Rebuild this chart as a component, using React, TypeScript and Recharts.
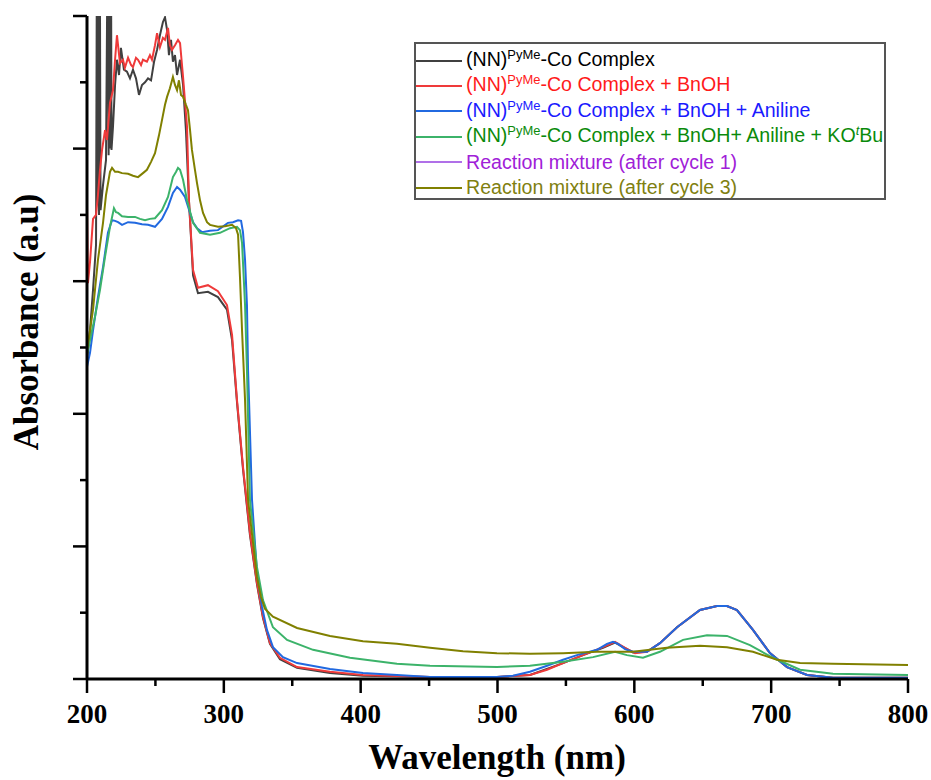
import React from "react";
import { LineChart, Line, XAxis, YAxis, Legend, Label } from "recharts";

// wavelength ticks (nm) and absorbance ticks (a.u., unlabelled)
const xTicks = [200, 250, 300, 350, 400, 450, 500, 550, 600, 650, 700, 750, 800];
const yTicks = [0, 0.1, 0.2, 0.3, 0.4, 0.5, 0.6, 0.7, 0.8, 0.9, 1.0];

// [wavelength nm, absorbance]
const complexOnly: [number, number][] = [
  [200.0, 0.481], [202.2, 0.526], [204.4, 0.587], [206.6, 0.655], [207.3, 1.15], [207.8, 0.72],
  [208.3, 1.15], [208.8, 0.7], [209.3, 1.15], [209.9, 0.707], [211.7, 0.745], [213.9, 0.783],
  [215.2, 1.15], [215.8, 0.79], [216.4, 1.15], [217.0, 0.8], [217.5, 1.15], [217.9, 0.798],
  [219.0, 0.833], [220.5, 0.896], [221.9, 0.934], [223.4, 0.911], [224.8, 0.952], [227.0, 0.919],
  [229.2, 0.916], [231.4, 0.906], [233.6, 0.919], [235.8, 0.906], [238.0, 0.881], [240.2, 0.896],
  [242.4, 0.9], [244.6, 0.906], [246.8, 0.903], [249.0, 0.931], [251.2, 0.949], [253.3, 0.971],
  [255.5, 0.991], [257.0, 0.998], [258.5, 0.979], [259.9, 0.941], [261.4, 0.964], [262.8, 0.931],
  [264.3, 0.941], [265.8, 0.911], [268.0, 0.934], [270.2, 0.896], [272.3, 0.828], [274.5, 0.722],
  [277.5, 0.609], [281.1, 0.582], [288.4, 0.584], [295.7, 0.576], [302.3, 0.557], [306.0, 0.511],
  [309.6, 0.418], [314.0, 0.317], [319.1, 0.217], [324.2, 0.143], [328.6, 0.092], [333.7, 0.053],
  [341.0, 0.03], [353.5, 0.017], [377.6, 0.009], [401.7, 0.005], [450.7, 0.003], [499.6, 0.003],
  [523.7, 0.006], [547.9, 0.024], [562.5, 0.036], [577.1, 0.047], [585.9, 0.055], [599.0, 0.04],
  [609.2, 0.041], [618.7, 0.054], [631.2, 0.078], [648.0, 0.104], [660.4, 0.11], [667.7, 0.11],
  [675.0, 0.104], [686.7, 0.074], [699.1, 0.039], [711.6, 0.018], [726.2, 0.006], [745.2, 0.002],
  [800.0, 0.002],
];

const withBnOH: [number, number][] = [
  [200.0, 0.715], [200.7, 0.597], [202.2, 0.629], [204.4, 0.694], [206.6, 0.7], [208.0, 0.73],
  [209.5, 0.768], [211.0, 0.798], [213.2, 0.828], [214.6, 0.813], [216.8, 0.869], [219.0, 0.888],
  [220.5, 0.934], [221.9, 0.971], [224.1, 0.929], [226.3, 0.934], [227.7, 0.922], [230.0, 0.937],
  [232.2, 0.926], [233.6, 0.923], [235.8, 0.937], [237.3, 0.934], [239.5, 0.926], [240.9, 0.934],
  [243.8, 0.931], [246.0, 0.941], [247.5, 0.934], [249.7, 0.956], [251.2, 0.974], [253.3, 0.953],
  [255.5, 0.967], [257.0, 0.964], [259.2, 0.982], [260.6, 0.956], [262.1, 0.949], [264.3, 0.956],
  [266.5, 0.964], [268.0, 0.959], [270.2, 0.908], [273.1, 0.833], [274.5, 0.722], [277.5, 0.617],
  [281.1, 0.59], [288.4, 0.594], [295.7, 0.585], [302.3, 0.564], [306.0, 0.519], [309.6, 0.421],
  [314.0, 0.32], [319.1, 0.22], [324.2, 0.145], [328.6, 0.094], [333.7, 0.054], [341.0, 0.032],
  [353.5, 0.018], [377.6, 0.011], [401.7, 0.006], [450.7, 0.003], [499.6, 0.003], [523.7, 0.006],
  [536.2, 0.014], [547.9, 0.024], [562.5, 0.036], [577.1, 0.048], [585.9, 0.056], [593.2, 0.047],
  [600.5, 0.039], [609.2, 0.041], [618.7, 0.054], [631.2, 0.078], [648.0, 0.104], [660.4, 0.11],
  [667.7, 0.11], [675.0, 0.104], [686.7, 0.074], [699.1, 0.039], [711.6, 0.018], [726.2, 0.006],
  [745.2, 0.002], [800.0, 0.002],
];

const withAniline: [number, number][] = [
  [200.0, 0.471], [202.2, 0.492], [204.4, 0.526], [208.0, 0.576], [211.7, 0.621], [215.3, 0.673],
  [218.3, 0.692], [220.5, 0.691], [222.7, 0.689], [225.6, 0.685], [230.0, 0.689], [235.1, 0.688],
  [240.2, 0.686], [244.6, 0.685], [249.7, 0.682], [254.8, 0.694], [259.2, 0.712], [262.8, 0.733],
  [265.8, 0.742], [268.0, 0.738], [271.6, 0.727], [275.3, 0.703], [277.5, 0.689], [280.4, 0.68],
  [284.0, 0.674], [289.9, 0.676], [295.7, 0.677], [303.0, 0.688], [306.7, 0.689], [310.4, 0.692],
  [312.6, 0.691], [314.0, 0.674], [315.5, 0.632], [316.9, 0.564], [317.7, 0.466], [318.4, 0.421],
  [320.6, 0.27], [324.2, 0.16], [327.9, 0.109], [331.5, 0.074], [335.9, 0.048], [343.2, 0.033],
  [353.5, 0.024], [377.6, 0.015], [401.7, 0.009], [426.5, 0.006], [450.7, 0.003], [499.6, 0.003],
  [511.3, 0.005], [523.7, 0.011], [536.2, 0.02], [547.9, 0.029], [558.1, 0.036], [572.7, 0.044],
  [580.0, 0.053], [584.4, 0.056], [588.1, 0.053], [593.2, 0.045], [599.0, 0.041], [609.2, 0.041],
  [618.7, 0.054], [631.2, 0.078], [648.0, 0.104], [660.4, 0.11], [667.7, 0.11], [675.0, 0.104],
  [686.7, 0.074], [699.1, 0.039], [711.6, 0.018], [726.2, 0.006], [745.2, 0.002], [800.0, 0.002],
];

const withKOtBu: [number, number][] = [
  [200.0, 0.49], [200.7, 0.496], [202.2, 0.511], [203.7, 0.526], [205.8, 0.546], [209.5, 0.587],
  [213.2, 0.637], [216.8, 0.682], [219.7, 0.71], [221.2, 0.704], [222.7, 0.703], [225.6, 0.698],
  [230.0, 0.697], [235.1, 0.697], [238.7, 0.694], [242.4, 0.692], [246.0, 0.694], [249.7, 0.695],
  [254.8, 0.707], [259.2, 0.727], [262.8, 0.757], [265.1, 0.765], [266.5, 0.771], [268.0, 0.768],
  [270.2, 0.753], [273.1, 0.722], [277.5, 0.688], [282.6, 0.673], [289.9, 0.67], [297.2, 0.673],
  [304.5, 0.68], [309.6, 0.682], [311.8, 0.677], [313.3, 0.658], [315.5, 0.564], [316.9, 0.466],
  [319.1, 0.27], [324.2, 0.169], [328.6, 0.119], [335.9, 0.078], [346.2, 0.059], [365.2, 0.044],
  [392.2, 0.032], [426.5, 0.023], [450.7, 0.02], [499.6, 0.018], [523.7, 0.02], [547.9, 0.026],
  [569.8, 0.033], [585.9, 0.041], [594.6, 0.036], [606.3, 0.032], [618.7, 0.041], [635.6, 0.059],
  [653.1, 0.066], [667.7, 0.065], [684.5, 0.051], [701.3, 0.032], [721.1, 0.014], [745.2, 0.008],
  [800.0, 0.006],
];

// after cycle 1: listed in the legend, trace not visible in the figure
const afterCycle1: [number, number][] = [];

const afterCycle3: [number, number][] = [
  [200.0, 0.496], [202.2, 0.526], [204.4, 0.557], [208.0, 0.632], [211.7, 0.688], [213.9, 0.73],
  [216.8, 0.765], [218.3, 0.771], [220.5, 0.765], [222.7, 0.765], [225.6, 0.763], [230.0, 0.762],
  [233.6, 0.759], [237.3, 0.757], [240.9, 0.763], [243.8, 0.768], [246.8, 0.78], [249.7, 0.793],
  [252.6, 0.82], [254.8, 0.843], [257.0, 0.866], [258.5, 0.878], [260.6, 0.891], [262.8, 0.908],
  [264.3, 0.896], [265.8, 0.888], [267.2, 0.903], [268.7, 0.881], [270.2, 0.878], [272.3, 0.866],
  [273.8, 0.858], [275.3, 0.828], [276.7, 0.798], [278.9, 0.768], [280.4, 0.748], [282.6, 0.722],
  [284.8, 0.703], [287.7, 0.689], [289.9, 0.685], [295.7, 0.682], [300.8, 0.683], [306.0, 0.685],
  [308.9, 0.68], [310.4, 0.67], [311.8, 0.606], [313.3, 0.526], [315.5, 0.421], [317.7, 0.27],
  [324.2, 0.154], [327.1, 0.124], [330.0, 0.106], [335.9, 0.094], [353.5, 0.077], [377.6, 0.065],
  [401.7, 0.057], [426.5, 0.053], [450.7, 0.047], [474.8, 0.042], [499.6, 0.039], [523.7, 0.038],
  [547.9, 0.039], [572.7, 0.041], [599.0, 0.041], [623.8, 0.047], [648.0, 0.05], [667.7, 0.048],
  [686.7, 0.041], [704.3, 0.029], [721.1, 0.024], [745.2, 0.023], [800.0, 0.021],
];

const toPoints = (arr: [number, number][]) => arr.map(([x, y]) => ({ x, y }));

const sup = (s: string, italic = false) => (
  <span style={{ fontSize: "0.66em", position: "relative", top: "-0.55em", fontStyle: italic ? "italic" : "normal" }}>{s}</span>
);

const series = [
  { key: "c0", points: complexOnly, stroke: "#404040", text: "#000000",
    label: <>(NN){sup("PyMe")}-Co Complex</> },
  { key: "c1", points: withBnOH, stroke: "#ef3a3a", text: "#ff1a1a",
    label: <>(NN){sup("PyMe")}-Co Complex + BnOH</> },
  { key: "c2", points: withAniline, stroke: "#2169e0", text: "#1a1aff",
    label: <>(NN){sup("PyMe")}-Co Complex + BnOH + Aniline</> },
  { key: "c3", points: withKOtBu, stroke: "#3cb36a", text: "#0a8a0a",
    label: <>(NN){sup("PyMe")}-Co Complex + BnOH+ Aniline + KO{sup("t", true)}Bu</> },
  { key: "c4", points: afterCycle1, stroke: "#b070e8", text: "#a020d8",
    label: <>Reaction mixture (after cycle 1)</> },
  { key: "c5", points: afterCycle3, stroke: "#808000", text: "#808010",
    label: <>Reaction mixture (after cycle 3)</> },
];

const serif = "'Times New Roman', 'Liberation Serif', serif";

const XTick = (props: any) => {
  const { x, y, payload } = props;
  const major = payload.value % 100 === 0;
  return (
    <g>
      <line x1={x} x2={x} y1={y} y2={y + (major ? 14 : 7)} stroke="#000" strokeWidth={2.5} />
      {major && (
        <text x={x} y={y + 44} textAnchor="middle" fontFamily={serif} fontWeight="bold" fontSize={27} fill="#000">
          {payload.value}
        </text>
      )}
    </g>
  );
};

const YTick = (props: any) => {
  const { x, y, payload } = props;
  const major = Math.round(payload.value * 10) % 2 === 0;
  return <line x1={x} x2={x - (major ? 14 : 7)} y1={y} y2={y} stroke="#000" strokeWidth={2.5} />;
};

const renderLegend = () => (
  <div style={{ boxSizing: "border-box", width: 472, height: 158, border: "2px solid #555", background: "#fff",
    paddingTop: 4, fontFamily: "Arial, 'Liberation Sans', sans-serif", fontSize: 19.6 }}>
    {series.map((s) => (
      <div key={s.key} style={{ height: 25.4, lineHeight: "25.4px", display: "flex", alignItems: "center", whiteSpace: "nowrap" }}>
        <svg width={46} height={4} style={{ flex: "none" }}>
          <line x1={0} x2={46} y1={2} y2={2} stroke={s.stroke} strokeWidth={2} />
        </svg>
        <span style={{ color: s.text, marginLeft: 4 }}>{s.label}</span>
      </div>
    ))}
  </div>
);

export default function App() {
  return (
    <div style={{ position: "absolute", left: 0, top: 0, width: 931, height: 780, background: "#fff" }}>
      <LineChart width={931} height={780} margin={{ top: 16, right: 23, left: 0, bottom: 0 }}>
        <XAxis type="number" dataKey="x" domain={[200, 800]} ticks={xTicks} interval={0} allowDataOverflow
          height={101} tickSize={0} tickMargin={0} tickLine={false}
          axisLine={{ stroke: "#000", strokeWidth: 3 }} tick={(p: any) => <XTick {...p} />}>
          <Label content={() => (
            <text x={497} y={769} textAnchor="middle" fontFamily={serif} fontWeight="bold" fontSize={35} fill="#000">
              Wavelength (nm)
            </text>
          )} />
        </XAxis>
        <YAxis type="number" domain={[0, 1]} ticks={yTicks} interval={0} allowDataOverflow
          width={87} tickSize={0} tickMargin={0} tickLine={false}
          axisLine={{ stroke: "#000", strokeWidth: 3 }} tick={(p: any) => <YTick {...p} />}>
          <Label content={() => (
            <text x={38} y={322} transform="rotate(-90 38 322)" textAnchor="middle" fontFamily={serif}
              fontWeight="bold" fontSize={35} fill="#000">
              Absorbance (a.u)
            </text>
          )} />
        </YAxis>
        <Legend layout="vertical" align="center" verticalAlign="middle" content={renderLegend}
          wrapperStyle={{ left: 414, top: 42, width: 472, height: 158 }} />
        {series.map((s) => (
          <Line key={s.key} data={toPoints(s.points)} dataKey="y" type="linear" dot={false} activeDot={false}
            stroke={s.stroke} strokeWidth={2} isAnimationActive={false} name={s.key} />
        ))}
      </LineChart>
    </div>
  );
}
